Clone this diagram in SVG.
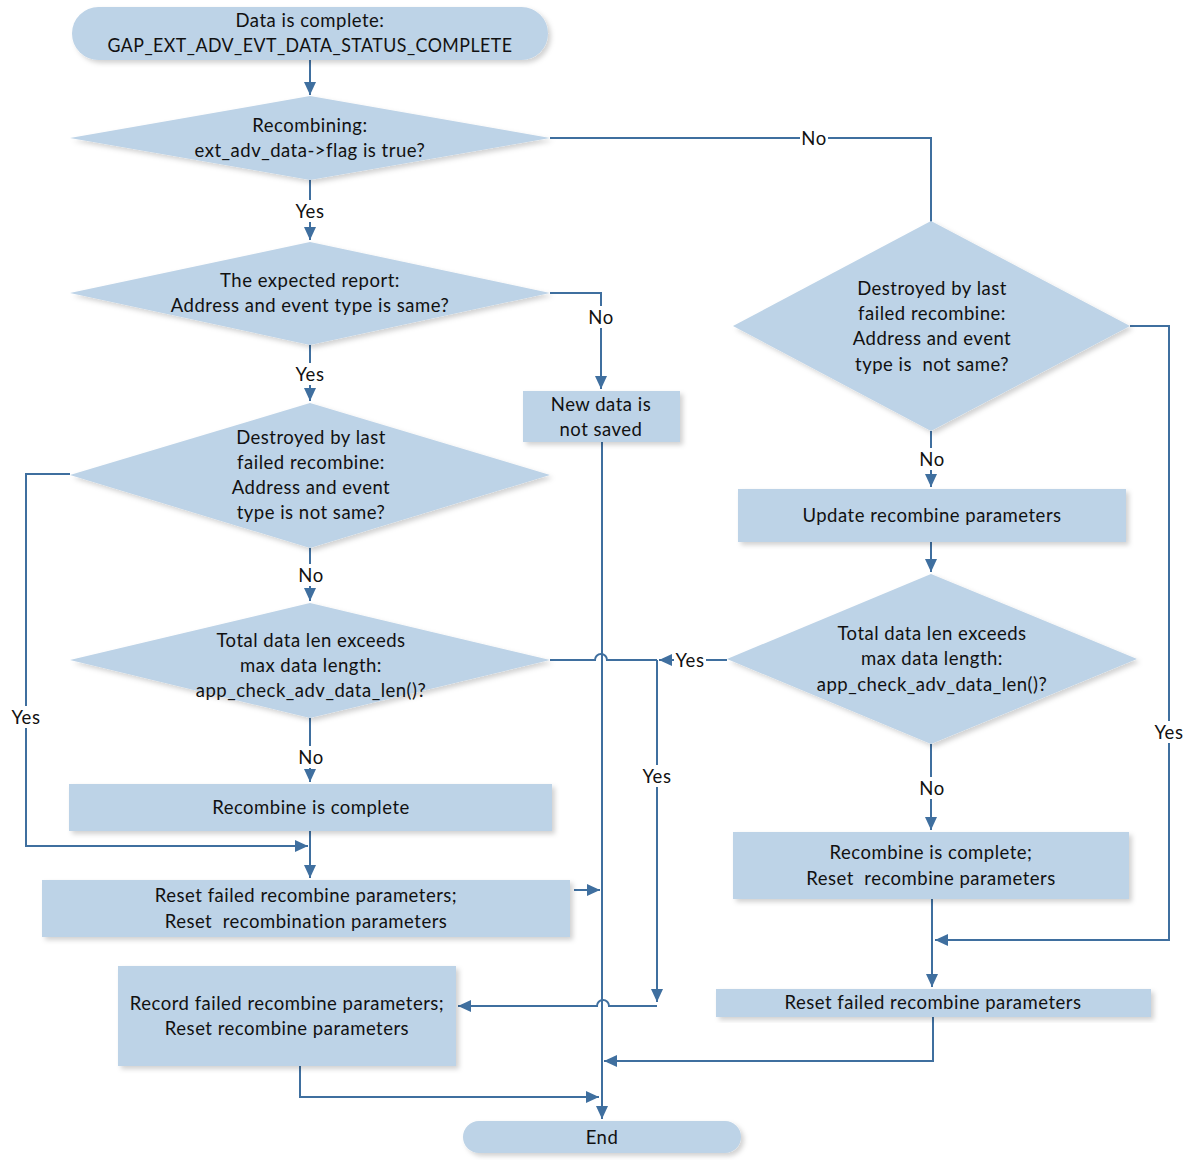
<svg xmlns="http://www.w3.org/2000/svg" width="1196" height="1168" viewBox="0 0 1196 1168">
<style>
.n{fill:#BDD3E7;filter:url(#sh)}
.t{font-family:Lato,"Liberation Sans",sans-serif;font-size:18.5px;letter-spacing:0.5px;fill:#111;text-anchor:middle;dominant-baseline:central}
.c{fill:none;stroke:#3F6F9F;stroke-width:2}
.lb{fill:#fff}
</style>
<defs>
<filter id="sh" x="-5%" y="-5%" width="115%" height="125%">
<feDropShadow dx="3" dy="3" stdDeviation="2.5" flood-color="#000" flood-opacity="0.18"/>
</filter>
<marker id="a" markerUnits="userSpaceOnUse" markerWidth="14" markerHeight="12" refX="13" refY="6" orient="auto">
<path d="M0,0 L13,6 L0,12 z" fill="#3F6F9F"/>
</marker>
</defs>
<rect width="1196" height="1168" fill="#fff"/>

<g id="connectors">
<path class="c" d="M310,60 V95" marker-end="url(#a)"/>
<path class="c" d="M310,180 V240" marker-end="url(#a)"/>
<path class="c" d="M550,293 H601 V389" marker-end="url(#a)"/>
<path class="c" d="M310,345 V401" marker-end="url(#a)"/>
<path class="c" d="M70,474 H26 V846 H308" marker-end="url(#a)"/>
<path class="c" d="M310,548 V601" marker-end="url(#a)"/>
<path class="c" d="M550,660 H595 A6,6 0 0 1 607,660 H657"/>
<path class="c" d="M727,660 H659" marker-end="url(#a)"/>
<path class="c" d="M657,660 V1002" marker-end="url(#a)"/>
<path class="c" d="M657,1006 H609 A6,6 0 0 0 597,1006 H458" marker-end="url(#a)"/>
<path class="c" d="M310,718 V782" marker-end="url(#a)"/>
<path class="c" d="M310,831 V878" marker-end="url(#a)"/>
<path class="c" d="M574,890 H600" marker-end="url(#a)"/>
<path class="c" d="M300,1066 V1097 H599" marker-end="url(#a)"/>
<path class="c" d="M602,442 V1119" marker-end="url(#a)"/>
<path class="c" d="M550,138 H931 V222"/>
<path class="c" d="M1130,326 H1169 V940 H935" marker-end="url(#a)"/>
<path class="c" d="M931,431 V487" marker-end="url(#a)"/>
<path class="c" d="M931,542 V572" marker-end="url(#a)"/>
<path class="c" d="M931,744 V830" marker-end="url(#a)"/>
<path class="c" d="M932,899 V987" marker-end="url(#a)"/>
<path class="c" d="M933,1017 V1061 H604" marker-end="url(#a)"/>
<g id="labels">
<rect class="lb" x="294" y="200" width="32" height="22"/><text class="t" x="310" y="211">Yes</text>
<rect class="lb" x="587" y="306" width="28" height="22"/><text class="t" x="601" y="317">No</text>
<rect class="lb" x="294" y="363" width="32" height="22"/><text class="t" x="310" y="374">Yes</text>
<rect class="lb" x="10" y="706" width="32" height="22"/><text class="t" x="26" y="717">Yes</text>
<rect class="lb" x="297" y="564" width="28" height="22"/><text class="t" x="311" y="575">No</text>
<rect class="lb" x="674" y="649" width="32" height="22"/><text class="t" x="690" y="660">Yes</text>
<rect class="lb" x="641" y="765" width="32" height="22"/><text class="t" x="657" y="776">Yes</text>
<rect class="lb" x="297" y="746" width="28" height="22"/><text class="t" x="311" y="757">No</text>
<rect class="lb" x="800" y="127" width="28" height="22"/><text class="t" x="814" y="138">No</text>
<rect class="lb" x="918" y="448" width="28" height="22"/><text class="t" x="932" y="459">No</text>
<rect class="lb" x="1153" y="721" width="32" height="22"/><text class="t" x="1169" y="732">Yes</text>
<rect class="lb" x="918" y="777" width="28" height="22"/><text class="t" x="932" y="788">No</text>
</g>
</g>

<g id="start">
<rect class="n" x="72" y="7" width="476" height="53" rx="26.5"/>
<text class="t" x="310" y="20">Data is complete:</text>
<text class="t" x="310" y="45" textLength="405" lengthAdjust="spacingAndGlyphs">GAP_EXT_ADV_EVT_DATA_STATUS_COMPLETE</text>
</g>
<g id="d1">
<polygon class="n" points="310,96 550,138 310,180 70,138"/>
<text class="t" x="310" y="125">Recombining:</text>
<text class="t" x="310" y="150">ext_adv_data-&gt;flag is true?</text>
</g>
<g id="d2">
<polygon class="n" points="310,242 550,293 310,345 70,293"/>
<text class="t" x="310" y="280">The expected report:</text>
<text class="t" x="310" y="305">Address and event type is same?</text>
</g>
<g id="newdata">
<rect class="n" x="523" y="391" width="157" height="51"/>
<text class="t" x="601" y="404">New data is</text>
<text class="t" x="601" y="429">not saved</text>
</g>
<g id="d3">
<polygon class="n" points="310,403 550,475 310,548 70,475"/>
<text class="t" x="311" y="437">Destroyed by last</text>
<text class="t" x="311" y="462">failed recombine:</text>
<text class="t" x="311" y="487">Address and event</text>
<text class="t" x="311" y="512">type is not same?</text>
</g>
<g id="d4">
<polygon class="n" points="310,603 550,660 310,718 70,660"/>
<text class="t" x="311" y="640">Total data len exceeds</text>
<text class="t" x="311" y="665">max data length:</text>
<text class="t" x="311" y="690">app_check_adv_data_len()?</text>
</g>
<g id="complete1">
<rect class="n" x="69" y="784" width="483" height="47"/>
<text class="t" x="311" y="807">Recombine is complete</text>
</g>
<g id="reset1">
<rect class="n" x="42" y="880" width="528" height="57"/>
<text class="t" x="306" y="895">Reset failed recombine parameters;</text>
<text class="t" x="306" y="921">Reset&#160; recombination parameters</text>
</g>
<g id="record">
<rect class="n" x="118" y="966" width="338" height="100"/>
<text class="t" x="287" y="1003">Record failed recombine parameters;</text>
<text class="t" x="287" y="1028">Reset recombine parameters</text>
</g>
<g id="end">
<rect class="n" x="463" y="1121" width="278" height="32" rx="16"/>
<text class="t" x="602" y="1137">End</text>
</g>
<g id="dr1">
<polygon class="n" points="931,221 1130,326 931,431 733,326"/>
<text class="t" x="932" y="288">Destroyed by last</text>
<text class="t" x="932" y="313">failed recombine:</text>
<text class="t" x="932" y="338">Address and event</text>
<text class="t" x="932" y="364">type is&#160; not same?</text>
</g>
<g id="update">
<rect class="n" x="738" y="489" width="388" height="53"/>
<text class="t" x="932" y="515">Update recombine parameters</text>
</g>
<g id="dr2">
<polygon class="n" points="931,574 1137,659 931,744 727,659"/>
<text class="t" x="932" y="633">Total data len exceeds</text>
<text class="t" x="932" y="658">max data length:</text>
<text class="t" x="932" y="684">app_check_adv_data_len()?</text>
</g>
<g id="complete2">
<rect class="n" x="733" y="832" width="396" height="67"/>
<text class="t" x="931" y="852">Recombine is complete;</text>
<text class="t" x="931" y="878">Reset&#160; recombine parameters</text>
</g>
<g id="reset2">
<rect class="n" x="716" y="989" width="435" height="28"/>
<text class="t" x="933" y="1002">Reset failed recombine parameters</text>
</g>
</svg>
